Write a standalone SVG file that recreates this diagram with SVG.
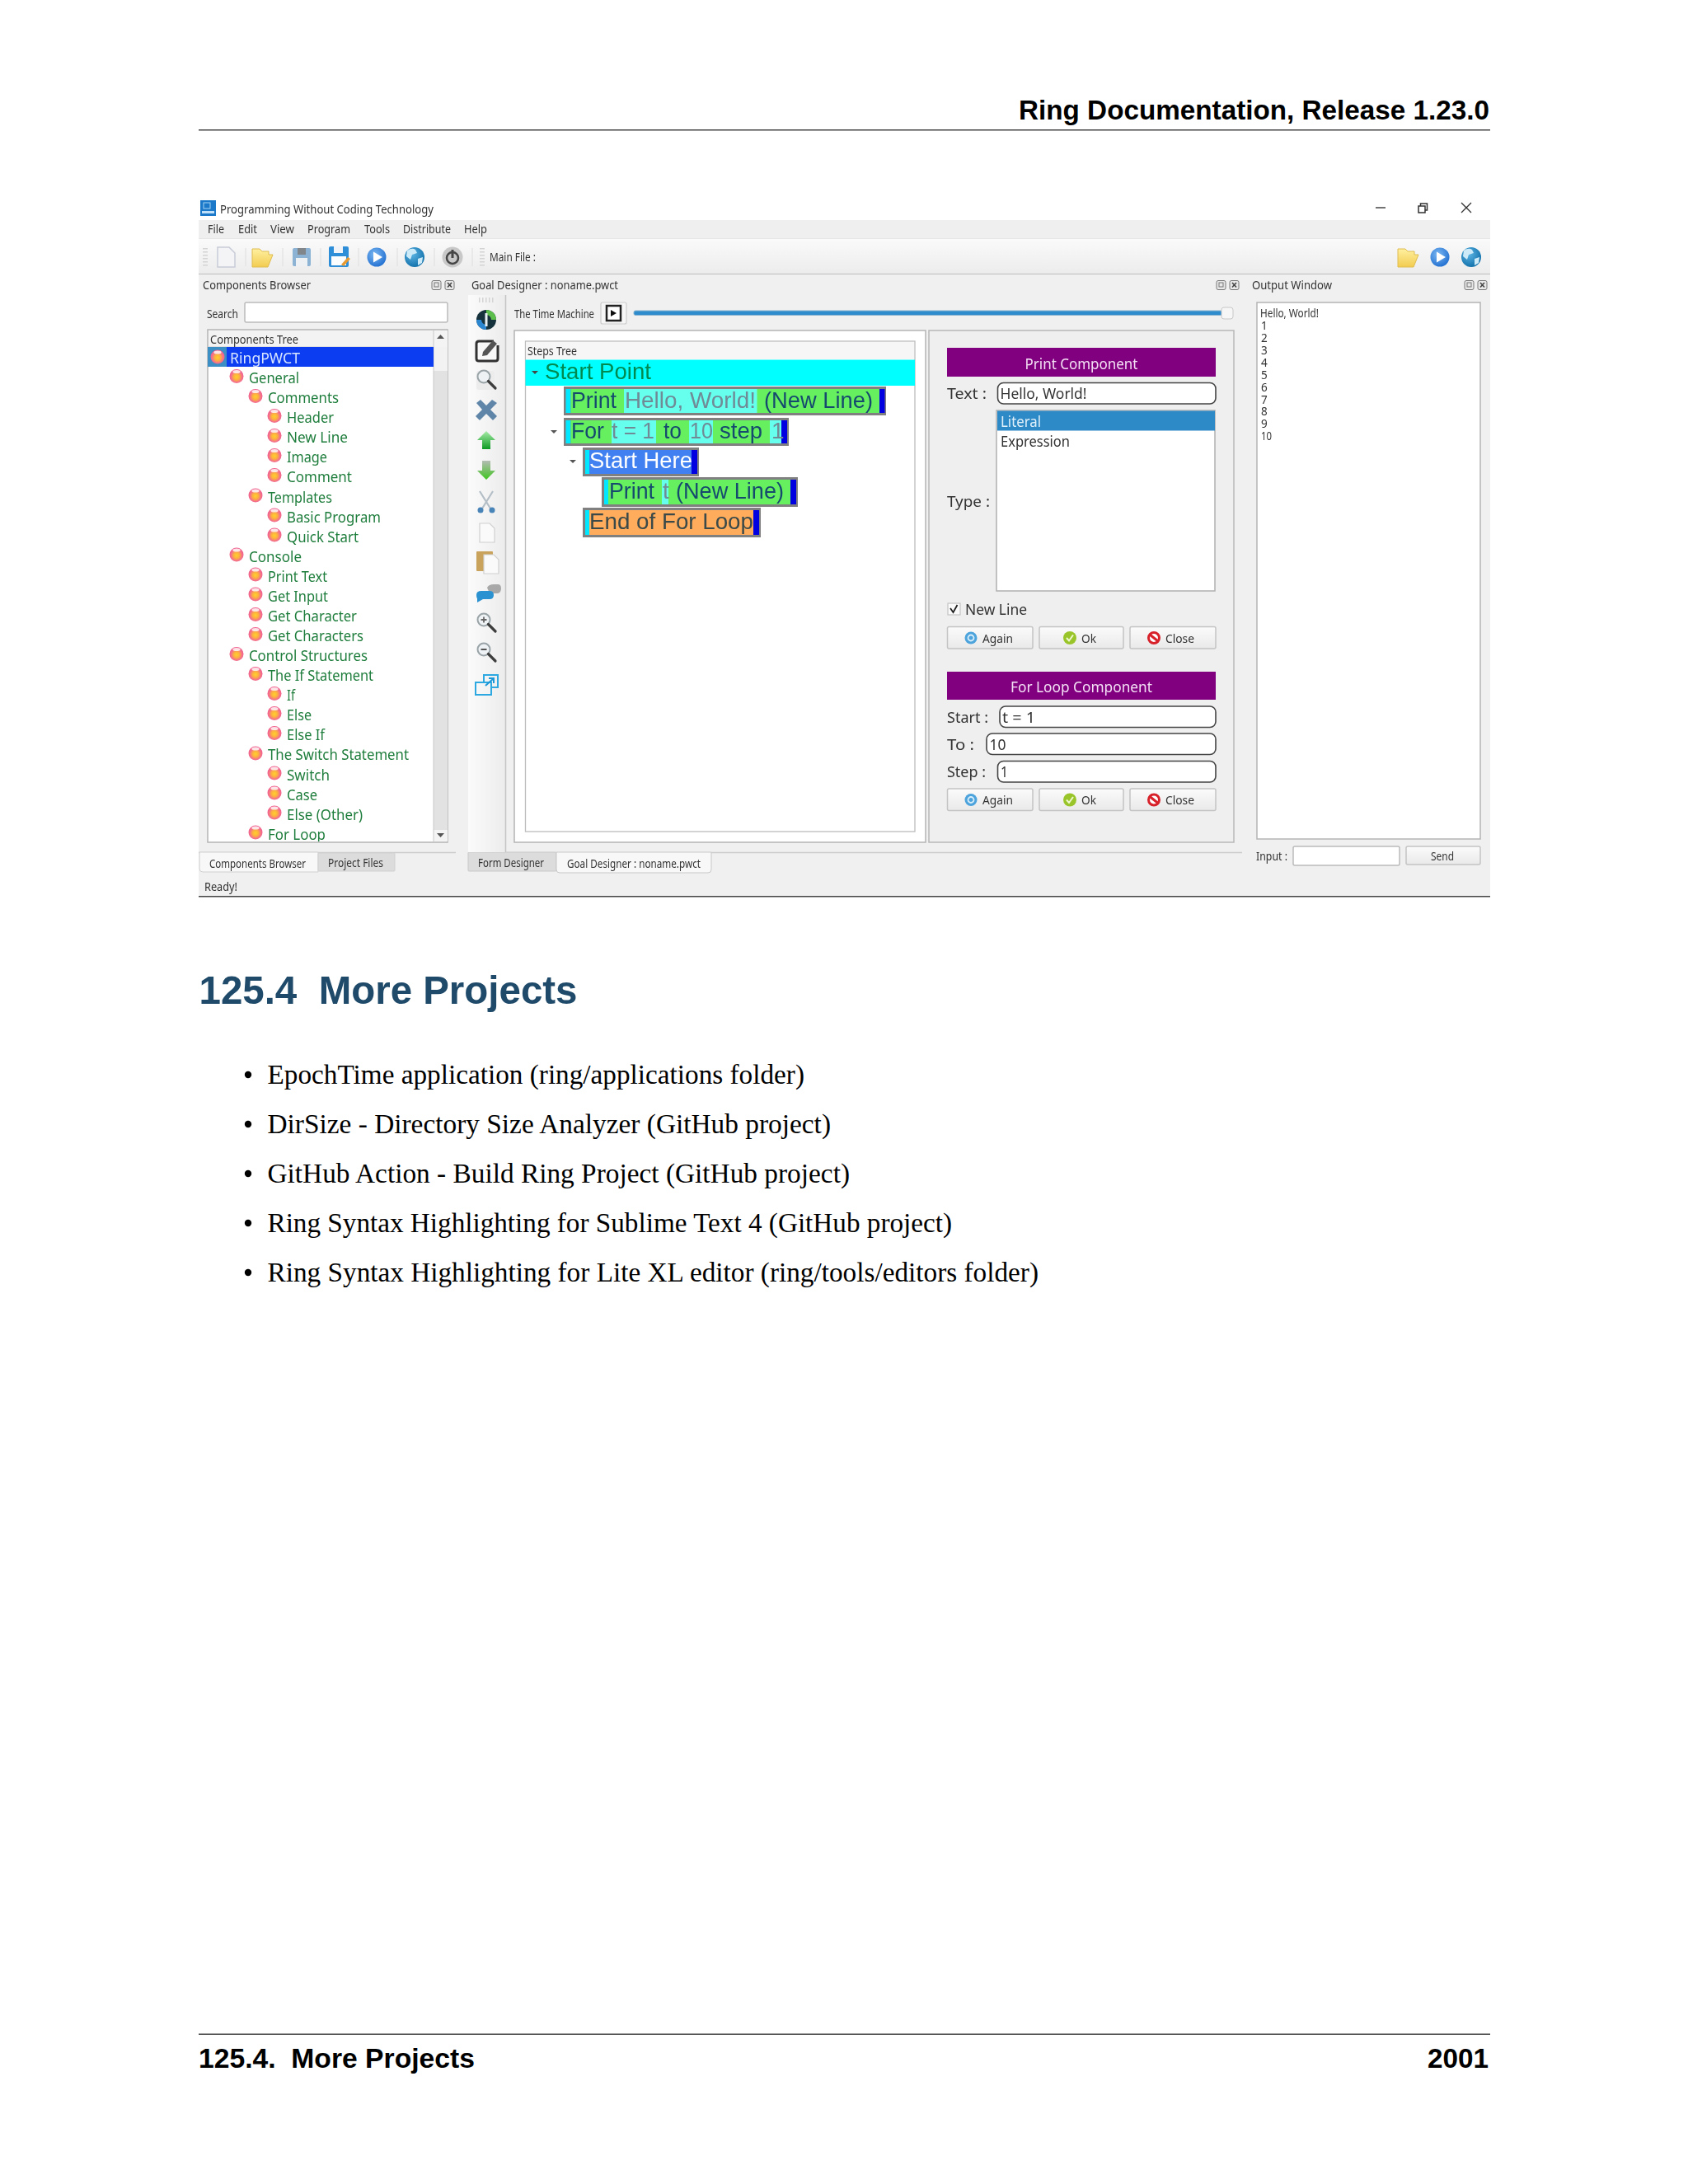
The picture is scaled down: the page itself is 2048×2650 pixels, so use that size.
<svg xmlns="http://www.w3.org/2000/svg" width="2048" height="2650" viewBox="0 0 2048 2650">
<style>
text{white-space:pre}
.ui{font-family:"Noto Sans","Open Sans","DejaVu Sans",sans-serif;fill:#333}
.t13{font-size:13.5px}.t15{font-size:15px}.t17{font-size:18px}
.tr{font-family:"Noto Sans","Open Sans",sans-serif;font-size:18px;fill:#1f7d3c}
.st{font-family:"Liberation Sans",Arial,sans-serif;font-size:28px;fill:#174a6e}
.val{fill:#6f8a96}
.pg{font-family:"Liberation Sans",Arial,sans-serif;font-weight:bold;fill:#000}
.li{font-family:"Liberation Serif","Times New Roman",serif;font-size:34px;fill:#000}
.inp{fill:#fff;stroke:#444;stroke-width:1.6}
.btn{fill:url(#btnG);stroke:#c4c4c4;stroke-width:1.5}
.row{fill:#808080}
.grip{fill:none;stroke:#d4d4d4;stroke-width:6;stroke-dasharray:1.5 2.5}
</style>
<defs>
<filter id="soft" x="0" y="0" width="100%" height="100%"><feGaussianBlur stdDeviation="0.45"/></filter>
<linearGradient id="tbG" x1="0" y1="0" x2="0" y2="1"><stop offset="0" stop-color="#fafafa"/><stop offset="1" stop-color="#ececec"/></linearGradient>
<linearGradient id="vtG" x1="0" y1="0" x2="1" y2="0"><stop offset="0" stop-color="#fbfbfb"/><stop offset="1" stop-color="#ececec"/></linearGradient>
<linearGradient id="btnG" x1="0" y1="0" x2="0" y2="1"><stop offset="0" stop-color="#fbfbfb"/><stop offset="1" stop-color="#e9e9e9"/></linearGradient>
<radialGradient id="ballG" cx=".5" cy=".55" r=".55"><stop offset="0" stop-color="#ffd02c"/><stop offset=".38" stop-color="#fdb040"/><stop offset=".72" stop-color="#f4708c"/><stop offset="1" stop-color="#ee5c8c"/></radialGradient>
<radialGradient id="playG" cx=".4" cy=".35" r=".7"><stop offset="0" stop-color="#7cb8f2"/><stop offset="1" stop-color="#1f6ed0"/></radialGradient>
<radialGradient id="globeG" cx=".4" cy=".35" r=".7"><stop offset="0" stop-color="#5cb4e4"/><stop offset="1" stop-color="#0f6ea8"/></radialGradient>
<linearGradient id="folderG" x1="0" y1="0" x2="0" y2="1"><stop offset="0" stop-color="#fff0a0"/><stop offset="1" stop-color="#f2cc50"/></linearGradient>
<linearGradient id="upG" x1="0" y1="0" x2="0" y2="1"><stop offset="0" stop-color="#a8eca8"/><stop offset="1" stop-color="#0e9a22"/></linearGradient>
<linearGradient id="dnG" x1="0" y1="0" x2="0" y2="1"><stop offset="0" stop-color="#b4bcb4"/><stop offset="1" stop-color="#3ec51e"/></linearGradient>
<symbol id="ball" overflow="visible"><circle r="8.5" fill="url(#ballG)"/><ellipse cy="-5.6" rx="4.6" ry="2" fill="#fff" opacity=".8"/></symbol>
<symbol id="folder" overflow="visible"><path d="M-12 -10h9l3 3h8v4h5l-6 15h-19z" fill="url(#folderG)" stroke="#e0bc50" stroke-width="1"/></symbol>
<symbol id="play" overflow="visible"><circle r="11.500" fill="url(#playG)"/><path d="M-4 -6.500L7 0L-4 6.500z" fill="#fff"/></symbol>
<symbol id="globe" overflow="visible"><circle r="12" fill="url(#globeG)"/><path d="M-9 -8q6 -4 10 -1l2 4l-6 2l-2 6l-5 -4zM4 2l6 -2l-1 7l-5 3z" fill="#cdeaf8"/></symbol>
<symbol id="dockbtns" overflow="visible"><rect x="0" y="-5.500" width="11" height="11" rx="2" fill="#e8e8e8" stroke="#777"/><rect x="3" y="-3" width="5" height="5" fill="none" stroke="#777"/><rect x="16" y="-5.500" width="11" height="11" rx="2" fill="#e8e8e8" stroke="#777"/><path d="M19 -3l5 5.500M24 -3l-5 5.500" stroke="#444" stroke-width="1.600"/></symbol>
<symbol id="again" overflow="visible"><circle r="7.500" fill="#4ea4dc"/><circle r="3.500" fill="none" stroke="#d8eefa" stroke-width="1.800"/></symbol>
<symbol id="ok" overflow="visible"><circle r="8" fill="#9ac52c"/><path d="M-4 0l3 3.500l5 -7" fill="none" stroke="#eef8d0" stroke-width="2"/></symbol>
<symbol id="close" overflow="visible"><circle r="6.500" fill="#fff" stroke="#d8202c" stroke-width="3"/><path d="M-5 -4L5 4" stroke="#d8202c" stroke-width="3"/></symbol>
<symbol id="zoomglass" overflow="visible"><circle cx="-3" cy="-3" r="7.500" fill="#eef2f4" stroke="#9aa4a8" stroke-width="2"/><path d="M2.500 2.500L11 11" stroke="#3e3e3e" stroke-width="3.200" stroke-linecap="round"/></symbol>
<symbol id="doc" overflow="visible"><path d="M-9 -11h12l6 6v17h-18z" fill="#fafafa" stroke="#d0d0d0" stroke-width="1.200"/></symbol>
<clipPath id="treeClip"><rect x="252" y="421" width="274" height="600"/></clipPath>
</defs>

<rect width="2048" height="2650" fill="#fff"/>

<g id="page-header">
<text class="pg" x="1807" y="145" font-size="34" text-anchor="end" textLength="571" lengthAdjust="spacingAndGlyphs">Ring Documentation, Release 1.23.0</text>
<rect x="241" y="157" width="1567" height="1.500" fill="#444"/>
</g>

<g id="screenshot" filter="url(#soft)">
<rect x="241" y="267" width="1567" height="820" fill="#f0f0f0"/>
<g id="titlebar">
<rect x="243" y="243" width="19" height="19" fill="#1a78c8"/>
<rect x="247" y="246" width="8" height="7" fill="none" stroke="#a8d4f4"/>
<rect x="245" y="256" width="15" height="3" fill="#bfe0f8"/>
<text class="ui t15" x="267" y="259" textLength="259" lengthAdjust="spacingAndGlyphs">Programming Without Coding Technology</text>
<path d="M1669 252h12" stroke="#444" stroke-width="1.500"/>
<path d="M1721 250h8v8h-8zM1723.500 250v-3h8v8h-2.500" fill="none" stroke="#333" stroke-width="1.500"/>
<path d="M1773 246l12 12M1785 246l-12 12" stroke="#333" stroke-width="1.300"/>
</g>
<g id="menubar">
<rect x="241" y="267" width="1567" height="23" fill="#efefef"/>
<path d="M241 290h1567" stroke="#ddd" stroke-width="1"/>
<text class="ui t15" x="252" y="283" textLength="20" lengthAdjust="spacingAndGlyphs">File</text>
<text class="ui t15" x="289" y="283" textLength="23" lengthAdjust="spacingAndGlyphs">Edit</text>
<text class="ui t15" x="328" y="283" textLength="29" lengthAdjust="spacingAndGlyphs">View</text>
<text class="ui t15" x="373" y="283" textLength="52" lengthAdjust="spacingAndGlyphs">Program</text>
<text class="ui t15" x="442" y="283" textLength="31" lengthAdjust="spacingAndGlyphs">Tools</text>
<text class="ui t15" x="489" y="283" textLength="58" lengthAdjust="spacingAndGlyphs">Distribute</text>
<text class="ui t15" x="563" y="283" textLength="28" lengthAdjust="spacingAndGlyphs">Help</text>
</g>
<g id="toolbar">
<rect x="241" y="290" width="1567" height="42" fill="url(#tbG)"/>
<path d="M241 332.500h1567" stroke="#bdbdbd" stroke-width="1.200"/>
<path d="M249 301v22" class="grip"/>
<path d="M298 301v22M343 301v22M389 301v22M435 301v22M482 301v22M527 301v22M573 301v22" stroke="#e2e2e2" stroke-width="1.200"/>
<path d="M585 301v22" class="grip"/>
<path d="M264 300h14l7 7v17h-21z" fill="#f4f4f6" stroke="#c8ccd8" stroke-width="1.500"/>
<use href="#folder" x="318" y="312"/>
<rect x="355" y="301" width="22" height="22" rx="2" fill="#8cb2d4"/><rect x="361" y="301" width="10" height="8" fill="#80868a"/><rect x="359" y="313" width="14" height="10" fill="#eef1f4"/>
<rect x="399" y="299" width="24" height="25" rx="2" fill="#2f8fd8"/><rect x="405" y="299" width="11" height="8" fill="#f0f4f8"/><rect x="402" y="311" width="18" height="11" fill="#fbfdff"/><path d="M414 321l8 -9l3 2l-8 9z" fill="#e89a30"/>
<use href="#play" x="457" y="312"/>
<use href="#globe" x="503" y="312"/>
<circle cx="549" cy="312" r="12.500" fill="#c8c8c8"/><circle cx="549" cy="313" r="7" fill="none" stroke="#444" stroke-width="2.500"/><path d="M549 303v10" stroke="#444" stroke-width="3"/>
<text class="ui t13" x="594" y="317" textLength="56" lengthAdjust="spacingAndGlyphs">Main File :</text>
<use href="#folder" x="1708" y="312"/>
<use href="#play" x="1747" y="312"/>
<use href="#globe" x="1785" y="312"/>
</g>

<g id="components-browser">
<text class="ui t15" x="246" y="351" textLength="131" lengthAdjust="spacingAndGlyphs">Components Browser</text>
<use href="#dockbtns" x="524" y="346"/>
<text class="ui t15" x="251" y="386" textLength="38" lengthAdjust="spacingAndGlyphs">Search</text>
<rect x="297" y="367" width="246" height="24" rx="2" fill="#fff" stroke="#bbb" stroke-width="1.500"/>
<rect x="252" y="400" width="291" height="622" fill="#fff" stroke="#b4b4b4" stroke-width="1.500"/>
<rect x="253" y="401" width="273" height="20" fill="#f3f3f3"/>
<path d="M253 421h273" stroke="#ccc"/>
<text class="ui t15" x="255" y="417" textLength="107" lengthAdjust="spacingAndGlyphs">Components Tree</text>
<rect x="526" y="401" width="17" height="620" fill="#e2e2e2"/>
<rect x="526" y="401" width="17" height="20" fill="#f4f4f4"/>
<rect x="526" y="421" width="17" height="29" fill="#f2f2f2"/>
<rect x="526" y="1007" width="17" height="14" fill="#f4f4f4"/>
<path d="M526 401v620" stroke="#c8c8c8"/>
<path d="M530 411l4.500 -5l4.500 5z" fill="#555"/>
<path d="M530 1011l4.500 5l4.500 -5z" fill="#555"/>
<rect x="252" y="421" width="274" height="24" fill="#0b3cf0"/>
<rect x="252" y="421" width="23" height="24" fill="#3a8fc4"/>
<g id="tree" clip-path="url(#treeClip)">
<use href="#ball" x="264" y="433"/><text class="tr" x="279" y="441" style="fill:#d8e6ff" textLength="85" lengthAdjust="spacingAndGlyphs">RingPWCT</text>
<use href="#ball" x="287" y="456.500"/><text class="tr" x="302" y="465" textLength="61" lengthAdjust="spacingAndGlyphs">General</text>
<use href="#ball" x="310" y="480.500"/><text class="tr" x="325" y="489" textLength="86" lengthAdjust="spacingAndGlyphs">Comments</text>
<use href="#ball" x="333" y="504.500"/><text class="tr" x="348" y="513" textLength="57" lengthAdjust="spacingAndGlyphs">Header</text>
<use href="#ball" x="333" y="528.500"/><text class="tr" x="348" y="537" textLength="74" lengthAdjust="spacingAndGlyphs">New Line</text>
<use href="#ball" x="333" y="552.500"/><text class="tr" x="348" y="561" textLength="49" lengthAdjust="spacingAndGlyphs">Image</text>
<use href="#ball" x="333" y="576.500"/><text class="tr" x="348" y="585" textLength="79" lengthAdjust="spacingAndGlyphs">Comment</text>
<use href="#ball" x="310" y="601"/><text class="tr" x="325" y="609.500" textLength="78" lengthAdjust="spacingAndGlyphs">Templates</text>
<use href="#ball" x="333" y="625"/><text class="tr" x="348" y="633.500" textLength="114" lengthAdjust="spacingAndGlyphs">Basic Program</text>
<use href="#ball" x="333" y="649"/><text class="tr" x="348" y="657.600" textLength="87" lengthAdjust="spacingAndGlyphs">Quick Start</text>
<use href="#ball" x="287" y="673"/><text class="tr" x="302" y="681.700" textLength="64" lengthAdjust="spacingAndGlyphs">Console</text>
<use href="#ball" x="310" y="697"/><text class="tr" x="325" y="705.800" textLength="72" lengthAdjust="spacingAndGlyphs">Print Text</text>
<use href="#ball" x="310" y="721"/><text class="tr" x="325" y="729.800" textLength="73" lengthAdjust="spacingAndGlyphs">Get Input</text>
<use href="#ball" x="310" y="745.500"/><text class="tr" x="325" y="753.900" textLength="108" lengthAdjust="spacingAndGlyphs">Get Character</text>
<use href="#ball" x="310" y="769.500"/><text class="tr" x="325" y="778" textLength="116" lengthAdjust="spacingAndGlyphs">Get Characters</text>
<use href="#ball" x="287" y="793.500"/><text class="tr" x="302" y="802" textLength="144" lengthAdjust="spacingAndGlyphs">Control Structures</text>
<use href="#ball" x="310" y="817.500"/><text class="tr" x="325" y="826" textLength="128" lengthAdjust="spacingAndGlyphs">The If Statement</text>
<use href="#ball" x="333" y="841.500"/><text class="tr" x="348" y="850" textLength="10" lengthAdjust="spacingAndGlyphs">If</text>
<use href="#ball" x="333" y="865.500"/><text class="tr" x="348" y="874" textLength="30" lengthAdjust="spacingAndGlyphs">Else</text>
<use href="#ball" x="333" y="889.500"/><text class="tr" x="348" y="898" textLength="46" lengthAdjust="spacingAndGlyphs">Else If</text>
<use href="#ball" x="310" y="914"/><text class="tr" x="325" y="922.400" textLength="171" lengthAdjust="spacingAndGlyphs">The Switch Statement</text>
<use href="#ball" x="333" y="938"/><text class="tr" x="348" y="946.500" textLength="52" lengthAdjust="spacingAndGlyphs">Switch</text>
<use href="#ball" x="333" y="962"/><text class="tr" x="348" y="970.500" textLength="37" lengthAdjust="spacingAndGlyphs">Case</text>
<use href="#ball" x="333" y="986"/><text class="tr" x="348" y="994.600" textLength="92" lengthAdjust="spacingAndGlyphs">Else (Other)</text>
<use href="#ball" x="310" y="1010"/><text class="tr" x="325" y="1018.700" textLength="70" lengthAdjust="spacingAndGlyphs">For Loop</text>
</g>
</g>

<g id="tabs">
<path d="M241 1034.500H553M863 1034.500H1507" stroke="#ccc" stroke-width="1.300"/>
<path d="M242 1034v20q0 4 4 4h140v-24z" fill="#f8f8f8" stroke="#d0d0d0"/>
<text class="ui t13" x="254" y="1053" textLength="117" lengthAdjust="spacingAndGlyphs">Components Browser</text>
<rect x="386" y="1035" width="93" height="22" rx="1" fill="#dcdcdc" stroke="#d0d0d0"/>
<text class="ui t13" x="398" y="1052" textLength="67" lengthAdjust="spacingAndGlyphs">Project Files</text>
<rect x="568" y="1034" width="107" height="23" rx="1" fill="#dcdcdc" stroke="#c8c8c8"/>
<text class="ui t13" x="580" y="1052" textLength="80" lengthAdjust="spacingAndGlyphs">Form Designer</text>
<path d="M675 1034v21q0 4 4 4h180q4 0 4 -4v-21z" fill="#f8f8f8" stroke="#c8c8c8"/>
<text class="ui t13" x="688" y="1053" textLength="162" lengthAdjust="spacingAndGlyphs">Goal Designer : noname.pwct</text>
<text class="ui t13" x="248" y="1081" textLength="40" lengthAdjust="spacingAndGlyphs">Ready!</text>
<rect x="241" y="1087" width="1567" height="1.500" fill="#444"/>
</g>

<g id="side-toolbar">
<rect x="568" y="358" width="45" height="676" fill="url(#vtG)"/>
<path d="M613.500 358v676" stroke="#c4c4c4" stroke-width="1.500"/>
<path d="M581 364h20" class="grip" stroke-width="5"/>
<circle cx="590" cy="388" r="12" fill="#16323c"/><path d="M590 376a12 12 0 0 1 12 12h-6a6 6 0 0 0 -6 -6z" fill="#5cbf4c"/><path d="M590 400a12 12 0 0 1 -12 -12h6a6 6 0 0 0 6 6z" fill="#2a86d0"/><path d="M590 380v16" stroke="#e8f0f4" stroke-width="3"/>
<path d="M599 414h-18q-3 0 -3 3v18q0 3 3 3h20q3 0 3 -3v-16" fill="#f8f8f8" stroke="#333" stroke-width="3"/><path d="M586 427l12 -14l5 4l-12 14l-6 1z" fill="#555"/>
<rect x="578" y="450" width="22" height="23" rx="3" fill="#ececec"/><use href="#zoomglass" x="590" y="460"/>
<path d="M578 489l5 -4l7 7l7 -7l6 4l-8 8l8 8l-5 5l-8 -8l-8 8l-5 -5l8 -8z" fill="#5e86a8"/>
<path d="M590 523l11 11h-6v11h-10v-11h-6z" fill="url(#upG)"/>
<path d="M585 559h10v12h6l-11 11l-11 -11h6z" fill="url(#dnG)"/>
<path d="M582 596l13 21M598 596l-13 21" stroke="#b4bec6" stroke-width="2.200"/><circle cx="583" cy="619" r="3.500" fill="#4a84b8"/><circle cx="597" cy="619" r="3.500" fill="#4a84b8"/>
<use href="#doc" x="591" y="646"/>
<rect x="578" y="669" width="20" height="24" rx="1" fill="#c9a25c"/><use href="#doc" x="596" y="684"/>
<path d="M591 713q2 -4 8 -4h5q4 0 4 5t-4 6h-10z" fill="#a8a8a8"/><path d="M578 722q0 -5 6 -5h10q5 0 5 5t-5 5h-8l-7 4v-5q-1 -1 -1 -4z" fill="#2a92d0"/>
<use href="#zoomglass" x="590" y="755"/><path d="M583.500 752h7M587 748.500v7" stroke="#666" stroke-width="1.800"/>
<use href="#zoomglass" x="590" y="791"/><path d="M583.500 788h7" stroke="#555" stroke-width="2"/>
<rect x="577" y="828" width="19" height="15" fill="none" stroke="#2ea8e0" stroke-width="2"/><path d="M587 828v-9h17v15h-8" fill="none" stroke="#2ea8e0" stroke-width="2"/><path d="M589 832l10 -9m-6 0h6v6" fill="none" stroke="#1c98d8" stroke-width="2"/>
</g>

<g id="goal-designer">
<text class="ui t15" x="572" y="351" textLength="178" lengthAdjust="spacingAndGlyphs">Goal Designer : noname.pwct</text>
<use href="#dockbtns" x="1476" y="346"/>
<text class="ui t13" x="624" y="386" textLength="97" lengthAdjust="spacingAndGlyphs">The Time Machine</text>
<rect x="729" y="367" width="31" height="26" rx="2" fill="#f6f6f6" stroke="#ccc" stroke-width="1.200"/>
<rect x="736" y="371" width="17" height="18" fill="#fff" stroke="#222" stroke-width="2.500"/><path d="M741 376l7 4l-7 4z" fill="#111"/>
<rect x="769" y="377" width="714" height="5.500" rx="2" fill="#2f8ccc" stroke="#8ab4d0"/>
<rect x="1482" y="373" width="14" height="14" rx="3" fill="#f6f6f6" stroke="#c8c8c8"/>
<rect x="624" y="401" width="499" height="621" fill="#fff" stroke="#b4b4b4" stroke-width="1.500"/>
<rect x="637.500" y="414" width="472.500" height="595" fill="#fff" stroke="#bcbcbc" stroke-width="1.300"/>
<rect x="638" y="415" width="471" height="21" fill="#f6f6f6"/>
<text class="ui t13" x="640" y="431" textLength="60" lengthAdjust="spacingAndGlyphs">Steps Tree</text>
</g>

<g id="steps-tree">
<rect x="637.500" y="436.500" width="472.500" height="31.500" fill="#00ffff"/>
<path d="M645 450h8l-4 4z" fill="#444"/>
<text x="661" y="460" font-family="Liberation Sans,Arial,sans-serif" font-size="28" fill="#008a50" textLength="129" lengthAdjust="spacingAndGlyphs">Start Point</text>

<g id="step-print">
<rect class="row" x="684" y="469" width="391" height="35"/>
<rect x="686.500" y="472" width="6" height="29" fill="#00e8ff"/>
<rect x="692.500" y="472" width="374.500" height="29" fill="#66f060"/>
<rect x="757" y="472" width="161.500" height="29" fill="#66ffee"/>
<rect x="1067" y="472" width="6.500" height="29" fill="#0000e0"/>
<text class="st" x="693" y="495" textLength="55" lengthAdjust="spacingAndGlyphs">Print</text>
<text class="st val" x="758" y="495" textLength="159" lengthAdjust="spacingAndGlyphs">Hello, World!</text>
<text class="st" x="927" y="495" textLength="132" lengthAdjust="spacingAndGlyphs">(New Line)</text>
</g>

<g id="step-for">
<path d="M668 522h8l-4 4z" fill="#555"/>
<rect class="row" x="684" y="507" width="273" height="34"/>
<rect x="686.500" y="510" width="6" height="28" fill="#00e8ff"/>
<rect x="692.500" y="510" width="255.500" height="28" fill="#66f060"/>
<rect x="742" y="510" width="54" height="28" fill="#66ffee"/>
<rect x="836" y="510" width="29" height="28" fill="#66ffee"/>
<rect x="934" y="510" width="14" height="28" fill="#66ffee"/>
<rect x="948" y="510" width="7" height="28" fill="#0000e0"/>
<text class="st" x="693" y="532" textLength="40" lengthAdjust="spacingAndGlyphs">For</text>
<text class="st val" x="742" y="532" textLength="52" lengthAdjust="spacingAndGlyphs">t = 1</text>
<text class="st" x="805" y="532" textLength="22" lengthAdjust="spacingAndGlyphs">to</text>
<text class="st val" x="837" y="532" textLength="28" lengthAdjust="spacingAndGlyphs">10</text>
<text class="st" x="873" y="532" textLength="52" lengthAdjust="spacingAndGlyphs">step</text>
<text class="st val" x="936" y="532">1</text>
</g>

<g id="step-start-here">
<path d="M691 558h8l-4 4z" fill="#555"/>
<rect class="row" x="707" y="543" width="141" height="35"/>
<rect x="710" y="546" width="5" height="29" fill="#00e8ff"/>
<rect x="715" y="546" width="124" height="29" fill="#4080f0"/>
<rect x="839" y="546" width="7" height="29" fill="#0000e0"/>
<text class="st" x="715" y="568" style="fill:#fff" textLength="125" lengthAdjust="spacingAndGlyphs">Start Here</text>
</g>

<g id="step-print-t">
<rect class="row" x="730" y="579" width="238" height="36"/>
<rect x="733" y="582" width="5" height="30" fill="#00e8ff"/>
<rect x="738" y="582" width="221" height="30" fill="#66f060"/>
<rect x="803" y="582" width="8" height="30" fill="#66ffee"/>
<rect x="959" y="582" width="7" height="30" fill="#0000e0"/>
<text class="st" x="739" y="605" textLength="55" lengthAdjust="spacingAndGlyphs">Print</text>
<text class="st val" x="804" y="605">t</text>
<text class="st" x="820" y="605" textLength="131" lengthAdjust="spacingAndGlyphs">(New Line)</text>
</g>

<g id="step-end">
<rect class="row" x="707" y="616" width="216" height="36"/>
<rect x="710" y="619" width="5" height="30" fill="#00e8ff"/>
<rect x="715" y="619" width="199" height="30" fill="#ffac5c"/>
<rect x="914" y="619" width="7" height="30" fill="#0000e0"/>
<text class="st" x="715" y="642" style="fill:#3a4a4a" textLength="199" lengthAdjust="spacingAndGlyphs">End of For Loop</text>
</g>
</g>

<g id="component-panel">
<rect x="1127" y="401" width="370" height="621" fill="#efefef" stroke="#b8b8b8" stroke-width="1.500"/>
<rect x="1149" y="422" width="326" height="35" fill="#800080"/>
<text class="ui t17" x="1312" y="448" text-anchor="middle" style="fill:#f4e0f4" textLength="137" lengthAdjust="spacingAndGlyphs">Print Component</text>
<text class="ui t17" x="1149" y="484" textLength="48" lengthAdjust="spacingAndGlyphs">Text :</text>
<rect class="inp" x="1210.500" y="464.500" width="264.500" height="25.500" rx="7"/>
<text class="ui t17" x="1213.500" y="484" textLength="105" lengthAdjust="spacingAndGlyphs">Hello, World!</text>
<rect x="1209" y="498" width="265" height="219" fill="#fff" stroke="#b0b0b0" stroke-width="1.500"/>
<rect x="1210" y="498.500" width="264" height="24" fill="#2e8ac6"/>
<text class="ui t17" x="1214" y="518" style="fill:#e0f0fa" textLength="49" lengthAdjust="spacingAndGlyphs">Literal</text>
<text class="ui t17" x="1214" y="542" textLength="84" lengthAdjust="spacingAndGlyphs">Expression</text>
<text class="ui t17" x="1149" y="615" textLength="52" lengthAdjust="spacingAndGlyphs">Type :</text>
<rect x="1150" y="732" width="15" height="14" fill="#fafafa" stroke="#c4c4c4" stroke-width="1.200"/>
<path d="M1153 738l3.500 5l5 -9" fill="none" stroke="#222" stroke-width="1.800"/>
<text class="ui t17" x="1171" y="746" textLength="75" lengthAdjust="spacingAndGlyphs">New Line</text>
<rect class="btn" x="1149.500" y="760.500" width="103.500" height="26.500" rx="2"/>
<rect class="btn" x="1261" y="760.500" width="102" height="26.500" rx="2"/>
<rect class="btn" x="1371" y="760.500" width="104" height="26.500" rx="2"/>
<use href="#again" x="1178" y="774"/><text class="ui t15" x="1192" y="780" textLength="37" lengthAdjust="spacingAndGlyphs">Again</text>
<use href="#ok" x="1298" y="774"/><text class="ui t15" x="1312" y="780" textLength="18" lengthAdjust="spacingAndGlyphs">Ok</text>
<use href="#close" x="1400" y="774"/><text class="ui t15" x="1414" y="780" textLength="35" lengthAdjust="spacingAndGlyphs">Close</text>
<rect x="1149" y="815" width="326" height="34" fill="#800080"/>
<text class="ui t17" x="1312" y="840" text-anchor="middle" style="fill:#f4e0f4" textLength="172" lengthAdjust="spacingAndGlyphs">For Loop Component</text>
<text class="ui t17" x="1149" y="877" textLength="50" lengthAdjust="spacingAndGlyphs">Start :</text>
<rect class="inp" x="1213" y="857" width="262" height="25.500" rx="7"/>
<text class="ui t17" x="1216" y="877" textLength="40" lengthAdjust="spacingAndGlyphs">t = 1</text>
<text class="ui t17" x="1149" y="910" textLength="33" lengthAdjust="spacingAndGlyphs">To :</text>
<rect class="inp" x="1197" y="890" width="278" height="25.500" rx="7"/>
<text class="ui t17" x="1200.500" y="910" textLength="20" lengthAdjust="spacingAndGlyphs">10</text>
<text class="ui t17" x="1149" y="943" textLength="47" lengthAdjust="spacingAndGlyphs">Step :</text>
<rect class="inp" x="1210.500" y="923.500" width="264.500" height="25.500" rx="7"/>
<text class="ui t17" x="1214" y="943" textLength="9" lengthAdjust="spacingAndGlyphs">1</text>
<rect class="btn" x="1149.500" y="957" width="103.500" height="26.500" rx="2"/>
<rect class="btn" x="1261" y="957" width="102" height="26.500" rx="2"/>
<rect class="btn" x="1371" y="957" width="104" height="26.500" rx="2"/>
<use href="#again" x="1178" y="970.500"/><text class="ui t15" x="1192" y="976" textLength="37" lengthAdjust="spacingAndGlyphs">Again</text>
<use href="#ok" x="1298" y="970.500"/><text class="ui t15" x="1312" y="976" textLength="18" lengthAdjust="spacingAndGlyphs">Ok</text>
<use href="#close" x="1400" y="970.500"/><text class="ui t15" x="1414" y="976" textLength="35" lengthAdjust="spacingAndGlyphs">Close</text>
</g>

<g id="output-window">
<text class="ui t15" x="1519" y="351" textLength="97" lengthAdjust="spacingAndGlyphs">Output Window</text>
<use href="#dockbtns" x="1777" y="346"/>
<rect x="1525" y="367" width="271" height="651" fill="#fff" stroke="#b4b4b4" stroke-width="1.500"/>
<text class="ui t13" x="1529" y="385" textLength="71" lengthAdjust="spacingAndGlyphs">Hello, World!</text>
<text class="ui t13" x="1530" y="400">1</text>
<text class="ui t13" x="1530" y="415">2</text>
<text class="ui t13" x="1530" y="430">3</text>
<text class="ui t13" x="1530" y="445">4</text>
<text class="ui t13" x="1530" y="460">5</text>
<text class="ui t13" x="1530" y="475">6</text>
<text class="ui t13" x="1530" y="490">7</text>
<text class="ui t13" x="1530" y="504">8</text>
<text class="ui t13" x="1530" y="519">9</text>
<text class="ui t13" x="1530" y="534" textLength="13" lengthAdjust="spacingAndGlyphs">10</text>
<text class="ui t13" x="1524" y="1044" textLength="38" lengthAdjust="spacingAndGlyphs">Input :</text>
<rect x="1569" y="1027" width="129" height="23" rx="2" fill="#fff" stroke="#bbb" stroke-width="1.500"/>
<rect class="btn" x="1706" y="1027" width="90" height="22" rx="2"/>
<text class="ui t13" x="1750" y="1044" text-anchor="middle" textLength="28" lengthAdjust="spacingAndGlyphs">Send</text>
</g>
</g>

<g id="section">
<text class="pg" x="241.500" y="1218" font-size="49" style="fill:#1f4a69" textLength="459" lengthAdjust="spacingAndGlyphs">125.4  More Projects</text>
<g id="list">
<circle cx="301" cy="1304" r="4.200"/><text class="li" x="324.500" y="1315" textLength="651.500" lengthAdjust="spacingAndGlyphs">EpochTime application (ring/applications folder)</text>
<circle cx="301" cy="1364" r="4.200"/><text class="li" x="324.500" y="1375" textLength="683.500" lengthAdjust="spacingAndGlyphs">DirSize - Directory Size Analyzer (GitHub project)</text>
<circle cx="301" cy="1424" r="4.200"/><text class="li" x="324.500" y="1435" textLength="706.500" lengthAdjust="spacingAndGlyphs">GitHub Action - Build Ring Project (GitHub project)</text>
<circle cx="301" cy="1484" r="4.200"/><text class="li" x="324.500" y="1495" textLength="830.500" lengthAdjust="spacingAndGlyphs">Ring Syntax Highlighting for Sublime Text 4 (GitHub project)</text>
<circle cx="301" cy="1544" r="4.200"/><text class="li" x="324.500" y="1555" textLength="935.500" lengthAdjust="spacingAndGlyphs">Ring Syntax Highlighting for Lite XL editor (ring/tools/editors folder)</text>
</g>
</g>

<g id="page-footer">
<rect x="241" y="2467.500" width="1567" height="1.500" fill="#444"/>
<text class="pg" x="241" y="2509" font-size="34" textLength="335" lengthAdjust="spacingAndGlyphs">125.4.  More Projects</text>
<text class="pg" x="1806" y="2509" font-size="34" text-anchor="end" textLength="74" lengthAdjust="spacingAndGlyphs">2001</text>
</g>
</svg>
